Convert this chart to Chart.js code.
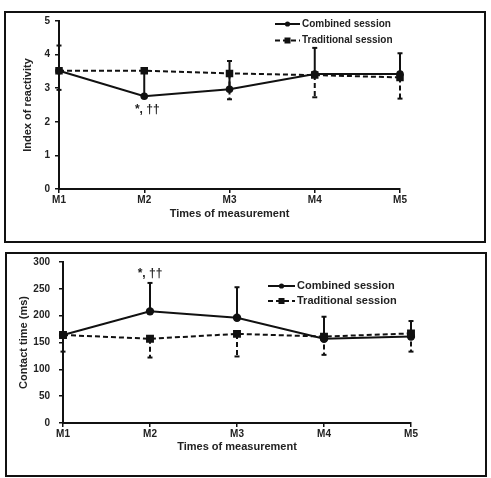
<!DOCTYPE html>
<html><head><meta charset="utf-8">
<script src="https://cdn.jsdelivr.net/npm/chart.js@4.4.1/dist/chart.umd.min.js"></script>
<style>
body{margin:0;background:#fff;width:491px;height:478px;position:relative;overflow:hidden}
.box{position:absolute;border:2px solid #111;box-sizing:border-box;pointer-events:none}
canvas{position:absolute;left:0}
</style></head><body>
<canvas id="c1" width="491" height="245" style="top:0;width:491px;height:245px"></canvas>
<canvas id="c2" width="491" height="233" style="top:245px;width:491px;height:233px"></canvas>
<div class="box" style="left:4px;top:11px;width:482px;height:232px"></div>
<div class="box" style="left:5px;top:252px;width:482px;height:225px"></div>
<script>
// ---- data ----
const categories = ['M1', 'M2', 'M3', 'M4', 'M5'];
const seriesNames = ['Combined session', 'Traditional session'];

// Index of reactivity
const reactCombined = [3.52, 2.76, 2.97, 3.42, 3.42];
const reactTraditional = [3.52, 3.52, 3.44, 3.39, 3.32];
const reactCombinedUpper = [4.27, 3.52, 3.81, 4.20, 4.04];
const reactTraditionalLower = [2.95, null, 2.67, 2.73, 2.69];
const reactTicks = [0, 1, 2, 3, 4, 5];

// Contact time (ms)
const contactCombined = [164, 208, 196, 157, 161];
const contactTraditional = [164, 157, 166, 161, 167];
const contactCombinedUpper = [null, 261, 253, 198, 190];
const contactTraditionalLower = [133, 122, 124, 127, 133];
const contactTicks = [0, 50, 100, 150, 200, 250, 300];

const sigLabel = '*, \u2020\u2020';

// ---- plugins ----
const FONT = "'Liberation Sans', Arial, sans-serif";
const TXT = '#222';

const errorBars = {
  id: 'errorBars',
  beforeDatasetsDraw(chart, args, opts) {
    const ctx = chart.ctx, xs = chart.scales.x, ys = chart.scales.y;
    (opts.bars || []).forEach(b => {
      const ds = chart.data.datasets[b.dataset];
      ctx.save();
      ctx.strokeStyle = '#111';
      ctx.lineWidth = 2;
      ctx.setLineDash(ds.borderDash || []);
      b.ends.forEach((end, i) => {
        if (end == null) return;
        const x = xs.getPixelForValue(i);
        const y0 = ys.getPixelForValue(ds.data[i]);
        const y1 = ys.getPixelForValue(end);
        ctx.beginPath(); ctx.moveTo(x, y0); ctx.lineTo(x, y1); ctx.stroke();
        ctx.setLineDash([]);
        ctx.beginPath(); ctx.moveTo(x - 2.5, y1); ctx.lineTo(x + 2.5, y1); ctx.stroke();
        ctx.setLineDash(ds.borderDash || []);
      });
      ctx.restore();
    });
  }
};

const lineLegend = {
  id: 'lineLegend',
  afterDraw(chart, args, o) {
    const ctx = chart.ctx;
    chart.data.datasets.forEach((ds, i) => {
      const y = o.y + i * o.gap;
      ctx.save();
      ctx.strokeStyle = '#111'; ctx.fillStyle = '#111'; ctx.lineWidth = 2;
      ctx.setLineDash(ds.borderDash || []);
      ctx.beginPath(); ctx.moveTo(o.x, y); ctx.lineTo(o.x + o.len, y); ctx.stroke();
      ctx.setLineDash([]);
      const cx = o.x + o.len / 2;
      if (ds.pointStyle === 'rect') {
        ctx.fillRect(cx - 3, y - 3, 6, 6);
      } else {
        ctx.beginPath(); ctx.arc(cx, y, 2.6, 0, Math.PI * 2); ctx.fill();
      }
      ctx.fillStyle = TXT;
      ctx.font = 'bold ' + o.size + 'px ' + FONT;
      ctx.textBaseline = 'middle'; ctx.textAlign = 'left';
      ctx.fillText(ds.label, o.x + o.len + 2, y);
      ctx.restore();
    });
  }
};

const sigMark = {
  id: 'sigMark',
  afterDraw(chart, args, o) {
    const ctx = chart.ctx;
    const x = chart.scales.x.getPixelForValue(o.index) + o.dx;
    const y = chart.scales.y.getPixelForValue(o.value);
    ctx.save();
    ctx.fillStyle = TXT;
    ctx.font = 'bold ' + o.size + 'px ' + FONT;
    ctx.textAlign = 'center'; ctx.textBaseline = 'middle';
    ctx.fillText(o.text, x, y);
    ctx.restore();
  }
};

function makeChart(id, c) {
  return new Chart(document.getElementById(id), {
    type: 'line',
    data: {
      labels: categories,
      datasets: [
        { label: seriesNames[0], data: c.combined, borderColor: '#111', backgroundColor: '#111',
          borderWidth: 2, pointStyle: 'circle', pointRadius: c.circleR, pointBorderWidth: 0,
          tension: 0, order: 1 },
        { label: seriesNames[1], data: c.traditional, borderColor: '#111', backgroundColor: '#111',
          borderWidth: 2, borderDash: [5, 3], pointStyle: 'rect', pointRadius: c.rectR, pointBorderWidth: 0,
          tension: 0, order: 0 }
      ]
    },
    options: {
      responsive: false, animation: false, devicePixelRatio: 1,
      layout: { padding: c.padding },
      plugins: {
        legend: { display: false }, tooltip: { enabled: false },
        errorBars: { bars: [{ dataset: 0, ends: c.upper }, { dataset: 1, ends: c.lower }] },
        lineLegend: c.legend,
        sigMark: c.sig
      },
      scales: {
        x: {
          offset: false,
          grid: { display: true, drawOnChartArea: false, drawTicks: true, tickLength: 4, color: '#111', lineWidth: 1.5 },
          border: { display: true, color: '#111', width: 2 },
          ticks: { color: TXT, font: { family: FONT, size: 10, weight: 'bold' }, padding: 1, maxRotation: 0 },
          title: { display: true, text: 'Times of measurement', color: TXT,
                   font: { family: FONT, size: 11, weight: 'bold' }, padding: { top: 0, bottom: c.xTitlePad } },
          afterFit(s) { s.height = c.xHeight; }
        },
        y: {
          min: c.ticks[0], max: c.ticks[c.ticks.length - 1],
          afterBuildTicks(s) { s.ticks = c.ticks.map(v => ({ value: v })); },
          grid: { display: true, drawOnChartArea: false, drawTicks: true, tickLength: 4, color: '#111', lineWidth: 1.5 },
          border: { display: true, color: '#111', width: 2 },
          ticks: { color: TXT, font: { family: FONT, size: 10, weight: 'bold' }, padding: c.yTickPad },
          title: { display: true, text: c.yTitle, color: TXT,
                   font: { family: FONT, size: 11, weight: 'bold' }, padding: { top: c.yTitlePad, bottom: 0 } },
          afterFit(s) { s.width = c.yWidth; }
        }
      }
    },
    plugins: [errorBars, lineLegend, sigMark]
  });
}

makeChart('c1', {
  combined: reactCombined, traditional: reactTraditional,
  upper: reactCombinedUpper, lower: reactTraditionalLower, ticks: reactTicks,
  yTitle: 'Index of reactivity',
  padding: { left: 0, right: 91, top: 21, bottom: 16 },
  xHeight: 40, yWidth: 59, xTitlePad: 8, yTitlePad: 21, yTickPad: 5,
  circleR: 3.8, rectR: 5.3,
  legend: { x: 275, y: 24, gap: 16.5, len: 25, size: 10 },
  sig: { text: sigLabel, index: 1, value: 2.35, dx: 3, size: 12 }
});

makeChart('c2', {
  combined: contactCombined, traditional: contactTraditional,
  upper: contactCombinedUpper, lower: contactTraditionalLower, ticks: contactTicks,
  yTitle: 'Contact time (ms)',
  padding: { left: 0, right: 80, top: 17, bottom: 15 },
  xHeight: 40, yWidth: 63, xTitlePad: 9, yTitlePad: 17, yTickPad: 9,
  circleR: 4.2, rectR: 5.6,
  legend: { x: 268, y: 41, gap: 15, len: 27, size: 11 },
  sig: { text: sigLabel, index: 1, value: 279, dx: 0, size: 12 }
});
</script>
</body></html>
